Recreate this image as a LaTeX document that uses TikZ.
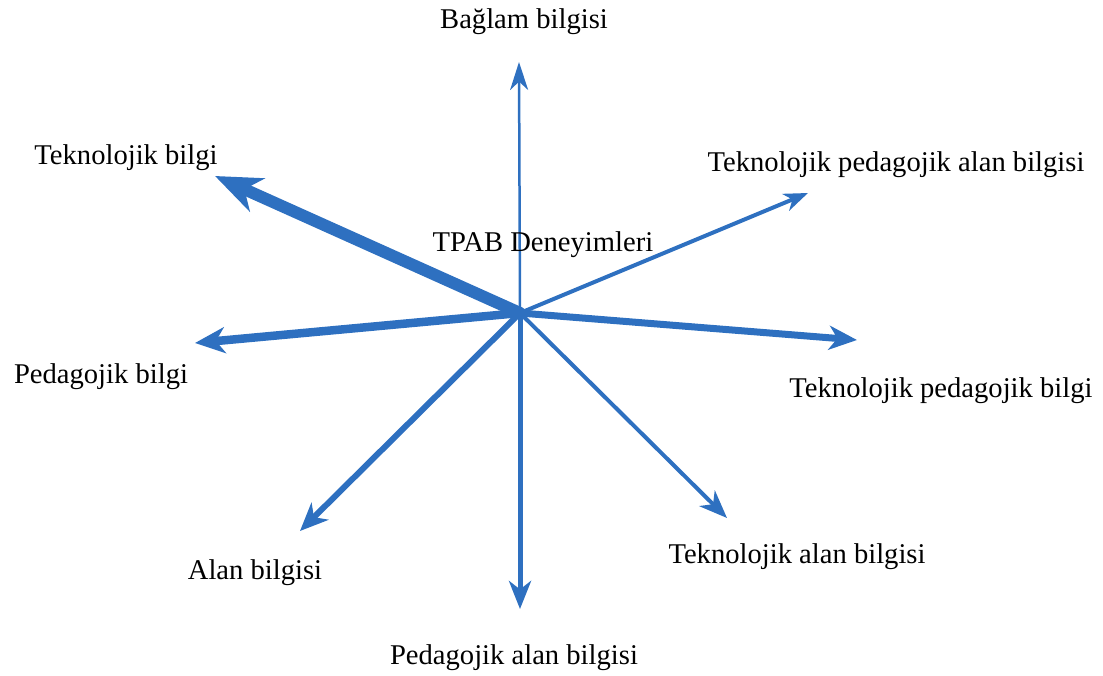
\documentclass[tikz,border=0pt]{standalone}
\usepackage{fontspec}
\setmainfont{Liberation Serif}
\usetikzlibrary{arrows.meta}
\definecolor{rayblue}{RGB}{46,112,192}
\begin{document}
\begin{tikzpicture}[x=1pt,y=-1pt,
  lbl/.style={inner sep=0pt,font=\fontsize{28.6}{34}\selectfont},
  ray/.style={draw=rayblue,line width=#1},
  head/.style 2 args={-{Stealth[length=#1,width=#2,inset=0.3*#1]}}]
\useasboundingbox (0,0) rectangle (1103,675);

% hub and arrow tips
\coordinate (o) at (520,313);
\coordinate (up) at (519,62);
\coordinate (tb) at (215,176);
\coordinate (pb) at (195,343);
\coordinate (tpb) at (857,340);
\coordinate (tpab) at (808,193);
\coordinate (tab) at (727,518);
\coordinate (pab) at (520,609);
\coordinate (ab) at (300,531);

% rays
\draw[ray=2.5pt,head={28pt}{18pt}] (o) -- (up);
\draw[ray=12pt,head={46pt}{36pt},line cap=round] (o) -- (tb);
\draw[ray=8.5pt,head={30pt}{26pt}] (o) -- (pb);
\draw[ray=7pt,head={28pt}{24pt}] (o) -- (tpb);
\draw[ray=4pt,head={24pt}{18pt}] (o) -- (tpab);
\draw[ray=4pt,head={28pt}{22pt}] (o) -- (tab);
\draw[ray=5pt,head={28pt}{22pt}] (o) -- (pab);
\draw[ray=6pt,head={28pt}{24pt}] (o) -- (ab);

% labels
\node[lbl] (l-bag) at (524,22) {Bağlam bilgisi};
\node[lbl] (l-tb) at (126,158) {Teknolojik bilgi};
\node[lbl] (l-tpab) at (896,165) {Teknolojik pedagojik alan bilgisi};
\node[lbl] (l-tpabd) at (543,245) {TPAB Deneyimleri};
\node[lbl] (l-pb) at (101,377) {Pedagojik bilgi};
\node[lbl] (l-tpb) at (941,391) {Teknolojik pedagojik bilgi};
\node[lbl] (l-ab) at (255,573) {Alan bilgisi};
\node[lbl] (l-tab) at (797,557) {Teknolojik alan bilgisi};
\node[lbl] (l-pab) at (514,658) {Pedagojik alan bilgisi};
\end{tikzpicture}
\end{document}
